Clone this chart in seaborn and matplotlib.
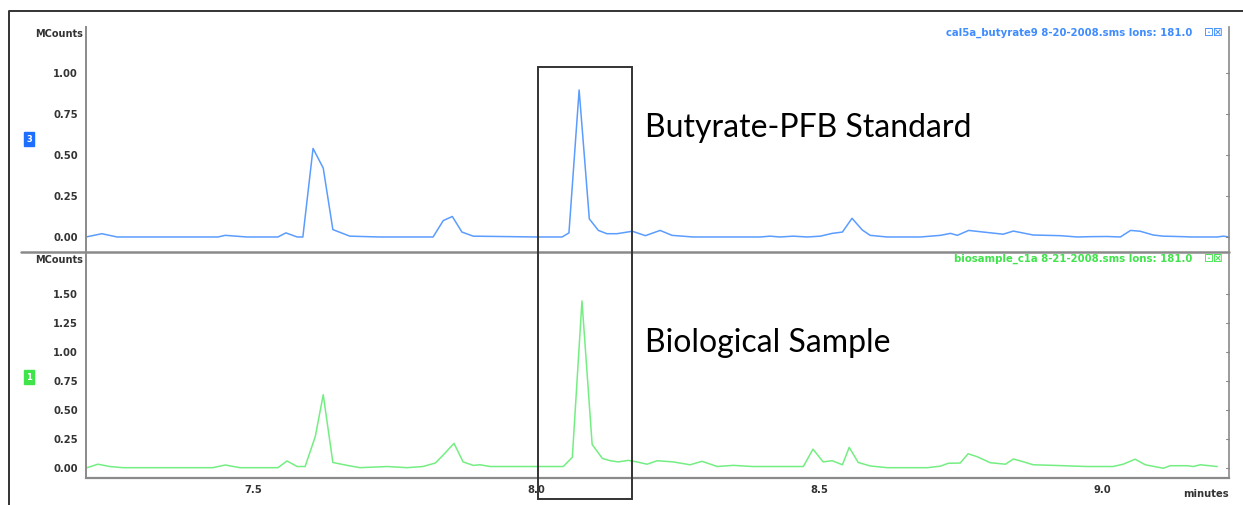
import numpy as np
import matplotlib
matplotlib.use("Agg")
import matplotlib.pyplot as plt
import matplotlib.transforms as mtransforms
from matplotlib.lines import Line2D
from matplotlib.patches import Rectangle
import seaborn as sns

# chromatogram traces (time in minutes, signal in MCounts)
std_time = [7.205, 7.233, 7.260, 7.438, 7.451, 7.489, 7.544, 7.558, 7.578, 7.588,
            7.606, 7.624, 7.641, 7.671, 7.724, 7.818, 7.836, 7.852, 7.869, 7.889,
            8.002, 8.046, 8.058, 8.076, 8.094, 8.110, 8.125, 8.143, 8.170, 8.193,
            8.219, 8.240, 8.277, 8.383, 8.396, 8.413, 8.431, 8.454, 8.479, 8.502,
            8.523, 8.541, 8.558, 8.576, 8.590, 8.620, 8.679, 8.714, 8.732, 8.744,
            8.764, 8.790, 8.825, 8.843, 8.878, 8.926, 8.956, 8.979, 9.009, 9.032,
            9.050, 9.067, 9.090, 9.108, 9.143, 9.156, 9.203, 9.214, 9.224]
std_signal = [0.00, 0.02, 0.00, 0.00, 0.01, 0.00, 0.00, 0.025, 0.00, 0.00,
              0.54, 0.42, 0.045, 0.005, 0.00, 0.00, 0.10, 0.125, 0.03, 0.005,
              0.00, 0.00, 0.025, 0.896, 0.11, 0.04, 0.02, 0.02, 0.035, 0.008,
              0.04, 0.01, 0.00, 0.00, 0.00, 0.005, 0.00, 0.005, 0.00, 0.005,
              0.022, 0.03, 0.114, 0.043, 0.01, 0.00, 0.00, 0.01, 0.022, 0.01,
              0.04, 0.03, 0.017, 0.036, 0.012, 0.008, 0.00, 0.002, 0.003, 0.00,
              0.04, 0.035, 0.012, 0.005, 0.002, 0.00, 0.00, 0.005, 0.00]

bio_time = [7.207, 7.226, 7.247, 7.270, 7.429, 7.451, 7.477, 7.544, 7.560, 7.578,
            7.592, 7.610, 7.624, 7.641, 7.666, 7.689, 7.737, 7.772, 7.800, 7.822,
            7.836, 7.855, 7.871, 7.889, 7.901, 7.919, 8.002, 8.048, 8.064, 8.081,
            8.099, 8.117, 8.131, 8.145, 8.163, 8.178, 8.196, 8.214, 8.242, 8.272,
            8.293, 8.320, 8.348, 8.383, 8.472, 8.489, 8.507, 8.523, 8.541, 8.553,
            8.569, 8.590, 8.620, 8.691, 8.714, 8.728, 8.749, 8.763, 8.779, 8.802,
            8.829, 8.843, 8.860, 8.878, 8.913, 8.973, 9.019, 9.037, 9.058, 9.076,
            9.108, 9.120, 9.150, 9.161, 9.173, 9.203]
bio_signal = [0.00, 0.03, 0.01, 0.00, 0.00, 0.023, 0.00, 0.00, 0.058, 0.01,
              0.01, 0.27, 0.63, 0.045, 0.02, 0.00, 0.01, 0.00, 0.01, 0.04,
              0.11, 0.21, 0.05, 0.02, 0.025, 0.01, 0.01, 0.01, 0.09, 1.44,
              0.20, 0.08, 0.06, 0.05, 0.063, 0.05, 0.03, 0.06, 0.05, 0.025,
              0.055, 0.01, 0.02, 0.01, 0.01, 0.16, 0.05, 0.06, 0.025, 0.175,
              0.045, 0.015, 0.00, 0.00, 0.013, 0.038, 0.04, 0.12, 0.095, 0.043,
              0.03, 0.075, 0.052, 0.025, 0.02, 0.01, 0.01, 0.03, 0.073, 0.025,
              -0.005, 0.017, 0.017, 0.01, 0.025, 0.01]

std_ticks = [0.00, 0.25, 0.50, 0.75, 1.00]
bio_ticks = [0.00, 0.25, 0.50, 0.75, 1.00, 1.25, 1.50]
x_ticks = [7.5, 8.0, 8.5, 9.0]

std_title = "cal5a_butyrate9 8-20-2008.sms Ions: 181.0"
bio_title = "biosample_c1a 8-21-2008.sms Ions: 181.0"
std_label = "Butyrate-PFB Standard"
bio_label = "Biological Sample"
box_range = (8.004, 8.170)

sns.set_style("white")
plt.rcParams['font.family'] = ['DejaVu Sans']

blue = "#5b9cff"
blue_txt = "#3f8cff"
green = "#74ee82"
green_txt = "#3fe34a"
axis_gray = "#8a8a8a"
tick_txt = "#333333"

fig = plt.figure(figsize=(12.43, 5.05), dpi=100)
ax_top = fig.add_axes([0.0692, 0.501, 0.9196, 0.4455])
ax_bot = fig.add_axes([0.0692, 0.0535, 0.9196, 0.4455])

sns.lineplot(x=std_time, y=std_signal, ax=ax_top, color=blue, linewidth=1.1)
sns.lineplot(x=bio_time, y=bio_signal, ax=ax_bot, color=green, linewidth=1.1)

xlim = (7.205, 9.224)
for ax, ticks, ylim in [(ax_top, std_ticks, (-0.0915, 1.28)),
                        (ax_bot, bio_ticks, (-0.089, 1.854))]:
    ax.set_xlim(*xlim)
    ax.set_ylim(*ylim)
    ax.set_yticks(ticks)
    ax.set_yticklabels([f"{t:.2f}" for t in ticks], fontsize=7.2,
                       fontweight="bold", color=tick_txt)
    ax.set_yticks(np.arange(-0.075, ylim[1], 0.025), minor=True)
    ax.tick_params(axis="y", which="major", direction="out", length=5,
                   width=0.9, color=axis_gray, pad=1)
    ax.tick_params(axis="y", which="minor", direction="inout", length=5,
                   width=0.8, color="#999999")
    ax.set_xlabel("")
    ax.set_ylabel("")
    ax.spines["top"].set_visible(False)
    ax.spines["left"].set_color(axis_gray)
    ax.spines["left"].set_linewidth(1.4)
    ax.spines["right"].set_color(axis_gray)
    ax.spines["right"].set_linestyle((0, (1, 1)))
    ax.spines["right"].set_linewidth(1.2)
    ax.text(-0.003, 0.97, "MCounts", transform=ax.transAxes, ha="right",
            va="center", fontsize=7, fontweight="bold", color=tick_txt)
    ax.set_facecolor("white")
    # small ticks on the dotted right axis
    for t in ticks:
        ax.plot([xlim[1] - 0.006, xlim[1]], [t, t], color=axis_gray, lw=0.8,
                clip_on=False)

ax_top.set_xticks([])
ax_top.spines["bottom"].set_visible(False)

ax_bot.set_xticks(x_ticks)
ax_bot.set_xticklabels([f"{t:.1f}" for t in x_ticks], fontsize=7.2,
                       fontweight="bold", color=tick_txt)
ax_bot.set_xticks(np.arange(7.25, 9.23, 0.05), minor=True)
ax_bot.tick_params(axis="x", which="both", direction="out", length=3,
                   width=0.8, color=axis_gray, pad=2)
ax_bot.spines["bottom"].set_color(axis_gray)
ax_bot.spines["bottom"].set_linewidth(1.6)

# trace titles with their little icons
ax_top.text(0.968, 0.975, std_title, transform=ax_top.transAxes, ha="right",
            va="center", fontsize=7.3, fontweight="bold", color=blue_txt)
ax_top.text(0.995, 0.975, "⊡⊠", transform=ax_top.transAxes, ha="right",
            va="center", fontsize=8.5, color=blue_txt)
ax_bot.text(0.968, 0.975, bio_title, transform=ax_bot.transAxes, ha="right",
            va="center", fontsize=7.3, fontweight="bold", color=green_txt)
ax_bot.text(0.995, 0.975, "⊡⊠", transform=ax_bot.transAxes, ha="right",
            va="center", fontsize=8.5, color=green_txt)

# trace badges
fig.text(29 / 1243, 1 - 139 / 505, "3", ha="center", va="center", fontsize=6,
         fontweight="bold", color="white",
         bbox=dict(boxstyle="square,pad=0.25", fc="#1f6fff", ec="#1f6fff"))
fig.text(29 / 1243, 1 - 377 / 505, "1", ha="center", va="center", fontsize=6,
         fontweight="bold", color="white",
         bbox=dict(boxstyle="square,pad=0.25", fc="#3fe34a", ec="#3fe34a"))

ax_bot.text(1.0, -0.07, "minutes", transform=ax_bot.transAxes, ha="right",
            va="center", fontsize=7.2, fontweight="bold", color=tick_txt)

# large annotations
fig.text(645 / 1243, 1 - 128 / 505, std_label, ha="left", va="center",
         fontsize=23, family=["Lato", "DejaVu Sans"], color="black")
fig.text(645 / 1243, 1 - 343 / 505, bio_label, ha="left", va="center",
         fontsize=23, family=["Lato", "DejaVu Sans"], color="black")

# highlight box spanning both panels
trans = mtransforms.blended_transform_factory(ax_bot.transData, fig.transFigure)
fig.patches.append(Rectangle((box_range[0], 1 - 499 / 505),
                             box_range[1] - box_range[0], (499 - 67) / 505,
                             transform=trans, fill=False, ec="#333333",
                             lw=1.4, zorder=10))

# panel separator and screenshot frame
fig.lines.append(Line2D([21 / 1243, 1229 / 1243], [1 - 252 / 505] * 2,
                        transform=fig.transFigure, color=axis_gray, lw=1.8))
fig.lines.append(Line2D([9 / 1243, 9 / 1243, 1.0], [0.0, 1 - 11 / 505, 1 - 11 / 505],
                        transform=fig.transFigure, color="#333333", lw=1.4))

fig.savefig("out.png", dpi=100, facecolor="white")
